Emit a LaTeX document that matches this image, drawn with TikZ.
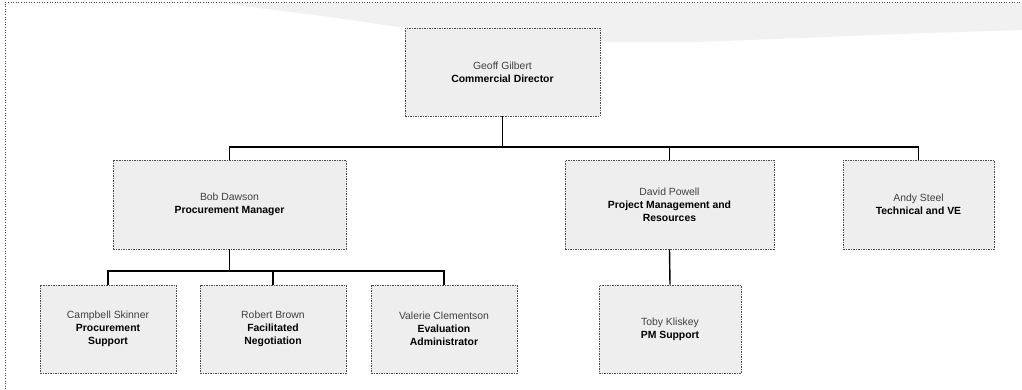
\documentclass[tikz,border=0pt]{standalone}
\usepackage{fontspec}
\setmainfont{Liberation Sans}
\begin{document}
\begin{tikzpicture}[x=1pt,y=-1pt,
  person/.style={draw=black!70, dashed, dash pattern=on 1.5pt off 1pt, line width=0.6pt,
    fill=gray!13, minimum width=#1, minimum height=89pt, align=center,
    font=\fontsize{10.4}{12.8}\selectfont, text=black, inner sep=2pt},
  person/.default=150pt,
  link/.style={draw=black, line width=1.4pt}]
\useasboundingbox (0,0) rectangle (1022,389);
% shaded band along the top edge
\fill[gray!11] (220,3) -- (1022,3) -- (1022,30) -- (900,34) -- (700,42) -- (600,42)
  -- (600,28) -- (405,28) -- (330,17) -- cycle;
% page frame
\draw[black!70, dotted, line width=0.6pt] (5,389) -- (5,2) -- (1022,2);

% people
\node[person=195pt, minimum height=88pt] (geoff) at (502.5,72) {{\color{black!75}Geoff Gilbert}\\\textbf{Commercial Director}};
\node[person=233pt] (bob) at (229.5,204.5) {{\color{black!75}Bob Dawson}\\\textbf{Procurement Manager}};
\node[person=209pt] (david) at (669.5,204.5) {{\color{black!75}David Powell}\\\textbf{Project Management and}\\\textbf{Resources}};
\node[person=151pt] (andy) at (918.5,204.5) {{\color{black!75}Andy Steel}\\\textbf{Technical and VE}};
\node[person=136pt, minimum height=88pt] (campbell) at (108,329) {{\color{black!75}Campbell Skinner}\\\textbf{Procurement}\\\textbf{Support}};
\node[person=146pt, minimum height=88pt] (robert) at (273,329) {{\color{black!75}Robert Brown}\\\textbf{Facilitated}\\\textbf{Negotiation}};
\node[person=146pt, minimum height=88pt] (valerie) at (444,329) {{\color{black!75}Valerie Clementson}\\\textbf{Evaluation}\\\textbf{Administrator}};
\node[person=142pt, minimum height=88pt] (toby) at (670,329) {{\color{black!75}Toby Kliskey}\\\textbf{PM Support}};

% reporting lines
\coordinate (top) at (502.5,147);
\draw[link] (geoff.south) -- (top);
\draw[link] (bob.north) |- (top) -| (andy.north);
\draw[link] (david.north) -- (david.north |- top);
\coordinate (mid) at (229.5,271);
\draw[link] (bob.south) -- (mid);
\draw[link] (campbell.north) |- (mid) -| (valerie.north);
\draw[link] (robert.north) -- (robert.north |- mid);
\draw[link] (david.south) -- (toby.north);
\end{tikzpicture}
\end{document}
